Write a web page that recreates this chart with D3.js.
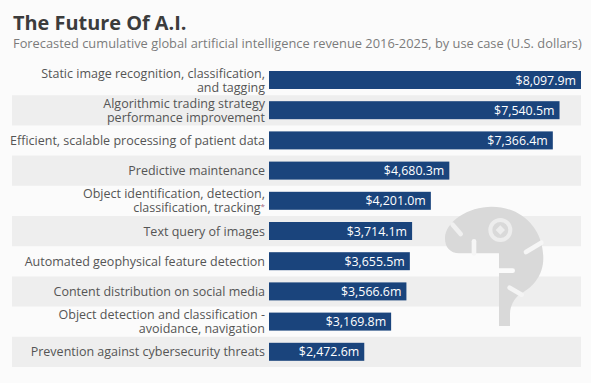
<!doctype html>
<html>
  <head>
    <script src="https://d3js.org/d3.v7.min.js"></script>
    <style>
      html, body { margin: 0; padding: 0; background: #fbfbfb; }
      svg { display: block; font-family: "Open Sans", sans-serif; }
    </style>
  </head>
  <body>
    <svg width="591" height="383"></svg>
    <script>
      var categories = [
        ["Static image recognition, classification,", "and tagging"],
        ["Algorithmic trading strategy", "performance improvement"],
        ["Efficient, scalable processing of patient data"],
        ["Predictive maintenance"],
        ["Object identification, detection,", "classification, tracking*"],
        ["Text query of images"],
        ["Automated geophysical feature detection"],
        ["Content distribution on social media"],
        ["Object detection and classification -", "avoidance, navigation"],
        ["Prevention against cybersecurity threats"]
      ];
      var values = [8097.9, 7540.5, 7366.4, 4680.3, 4201.0, 3714.1, 3655.5, 3566.6, 3169.8, 2472.6];

      var svg = d3.select("svg");
      var x = d3.scaleLinear().domain([0, 8097.9]).range([269, 581]);
      var y = d3.scaleBand().domain(d3.range(values.length)).range([65, 367]);
      var money = d3.format(",.1f");

      svg.append("text").attr("x", 13).attr("y", 30)
        .style("font-size", "19.9px").style("font-weight", 700).style("fill", "#3c3c3c")
        .text("The Future Of A.I.");
      svg.append("text").attr("x", 13).attr("y", 48)
        .style("font-size", "12.85px").style("fill", "#7b7b7b")
        .text("Forecasted cumulative global artificial intelligence revenue 2016-2025, by use case (U.S. dollars)");

      // stripes on every second row
      svg.selectAll("rect.stripe")
        .data(d3.range(values.length).filter(i => i % 2 == 1))
        .enter()
        .append("rect")
          .attr("class", "stripe")
          .attr("x", 12)
          .attr("width", 569)
          .attr("y", i => y(i))
          .attr("height", y.bandwidth())
          .style("fill", "#eeeeee");

      // robot head, sits over the stripes
      var head = svg.append("g").attr("transform", "translate(400,190) scale(0.3333)");
      head.append("path")
        .attr("d", "M297 408 L330 408 L330 372 C331 345 343 328 356 315 C395 295 430 260 430 205 C430 115 365 50 275 50 C205 50 135 95 135 145 C135 172 150 190 178 190 L297 190 Z")
        .style("fill", "#d9d9d9");
      head.append("circle").attr("cx", 301).attr("cy", 120).attr("r", 30)
        .style("fill", "none").style("stroke", "#ededed").style("stroke-width", 12);
      head.append("path").attr("d", "M301 106 L315 120 L301 134 L287 120 Z").style("fill", "#ededed");
      var cuts = [
        [158, 104, 182, 132, "#f0f0f0"], [222, 154, 222, 190, "#f6f6f6"], [378, 186, 424, 158, "#f6f6f6"],
        [297, 242, 338, 242, "#fbfbfb"], [329, 293, 365, 314, "#f4f4f4"]
      ];
      head.selectAll("line")
        .data(cuts)
        .enter()
        .append("line")
          .attr("x1", d => d[0]).attr("y1", d => d[1])
          .attr("x2", d => d[2]).attr("y2", d => d[3])
          .style("stroke", d => d[4])
          .style("stroke-width", 14)
          .style("stroke-linecap", "round");

      svg.selectAll("rect.bar")
        .data(values)
        .enter()
        .append("rect")
          .attr("class", "bar")
          .attr("x", x(0))
          .attr("y", (d, i) => y(i) + 6)
          .attr("width", d => x(d) - x(0))
          .attr("height", 18)
          .style("fill", "#1a447c");

      svg.selectAll("text.value")
        .data(values)
        .enter()
        .append("text")
          .attr("class", "value")
          .attr("x", d => x(d) - 5)
          .attr("y", (d, i) => y(i) + 19.5)
          .attr("text-anchor", "end")
          .style("font-size", "12.4px")
          .style("fill", "#ffffff")
          .text(d => "$" + money(d) + "m");

      var labels = svg.selectAll("text.label")
        .data(categories)
        .enter()
        .append("text")
          .attr("class", "label")
          .attr("text-anchor", "end")
          .style("font-size", "12.5px")
          .style("fill", "#555555");
      labels.each(function(d, i) {
        var top = y(i) + (d.length == 1 ? 19.5 : 12.5);
        d3.select(this).selectAll("tspan")
          .data(d)
          .enter()
          .append("tspan")
            .attr("x", 265)
            .attr("y", (t, j) => top + j * 14)
            .text(t => t.replace("*", ""))
            .filter(t => t.endsWith("*"))
            .append("tspan")
              .attr("dy", -3)
              .style("font-size", "8px")
              .style("fill", "#a56a78")
              .text("*");
      });
    </script>
  </body>
</html>
